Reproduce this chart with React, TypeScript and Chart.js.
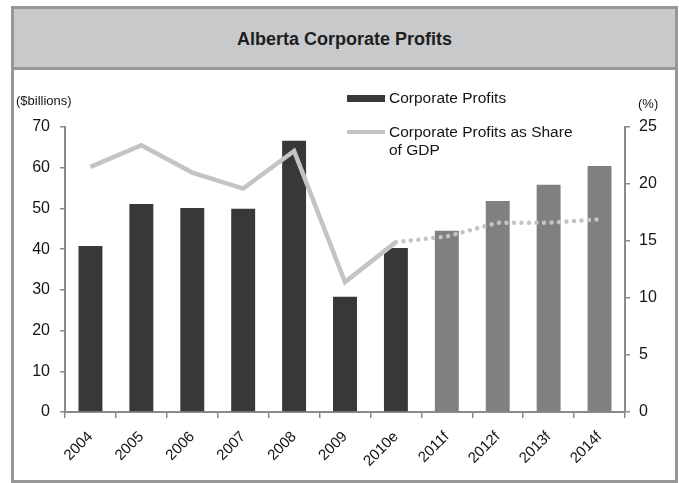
import React, { useEffect, useRef } from "react";
import { Chart, registerables } from "chart.js";

Chart.register(...registerables);

const categories = ["2004", "2005", "2006", "2007", "2008", "2009", "2010e", "2011f", "2012f", "2013f", "2014f"];
const profits = [40.8, 51.1, 50.1, 49.9, 66.6, 28.3, 40.3, 44.5, 51.8, 55.8, 60.4];
const isForecast = [false, false, false, false, false, false, false, true, true, true, true];
const shareActual = [21.5, 23.4, 21.0, 19.6, 22.9, 11.4, 14.9, null, null, null, null];
const shareForecast = [null, null, null, null, null, null, 14.9, 15.4, 16.6, 16.6, 16.9];
const leftTicks = { min: 0, max: 70, step: 10 };
const rightTicks = { min: 0, max: 25, step: 5 };

const FONT = "'Liberation Sans', Arial, sans-serif";
const TEXT = "#141414";
const AXIS = "#8a8a8a";
const DARK = "#383838";
const FORE = "#808080";
const LINE = "#c4c4c4";

const overlay = {
  id: "overlay",
  afterDraw(chart: any) {
    const ctx = chart.ctx;
    const ds = chart.data.datasets;
    ctx.save();
    ctx.fillStyle = TEXT;
    ctx.textBaseline = "middle";
    ctx.textAlign = "left";
    ctx.font = `13px ${FONT}`;
    ctx.fillText("($billions)", 16, 101);
    ctx.fillText("(%)", 638, 104);
    // legend
    ctx.fillStyle = DARK;
    ctx.fillRect(347, 95, 38, 7);
    ctx.strokeStyle = ds[1].borderColor;
    ctx.lineWidth = 4;
    ctx.beginPath();
    ctx.moveTo(347, 132);
    ctx.lineTo(385, 132);
    ctx.stroke();
    ctx.fillStyle = TEXT;
    ctx.font = `15.5px ${FONT}`;
    ctx.fillText(ds[0].label, 389, 99);
    ctx.fillText("Corporate Profits as Share", 389, 133);
    ctx.fillText("of GDP", 389, 151);
    ctx.restore();
  },
};

export default function App() {
  const ref = useRef<HTMLCanvasElement>(null);
  useEffect(() => {
    if (!ref.current) return;
    const chart = new Chart(ref.current, {
      type: "bar",
      data: {
        labels: categories,
        datasets: [
          {
            type: "bar",
            label: "Corporate Profits",
            data: profits,
            backgroundColor: isForecast.map((f) => (f ? FORE : DARK)),
            barPercentage: 0.47,
            categoryPercentage: 1,
            yAxisID: "y",
            order: 2,
          },
          {
            type: "line",
            label: "Corporate Profits as Share of GDP",
            data: shareActual,
            borderColor: LINE,
            borderWidth: 4.5,
            pointRadius: 0,
            yAxisID: "y1",
            order: 0,
            tension: 0,
          },
          {
            type: "line",
            label: "Forecast share",
            data: shareForecast,
            borderColor: LINE,
            borderWidth: 4.5,
            borderDash: [0.01, 7.5],
            borderCapStyle: "round",
            pointRadius: 0,
            yAxisID: "y1",
            order: 0,
            tension: 0,
          },
        ] as any,
      },
      options: {
        animation: false,
        responsive: false,
        layout: { padding: { top: 127, left: 0, right: 0, bottom: 0 } },
        plugins: { legend: { display: false }, tooltip: { enabled: false }, title: { display: false } },
        scales: {
          x: {
            grid: { display: true, drawOnChartArea: false, drawTicks: true, tickLength: 6, color: AXIS, lineWidth: 1.5, offset: true },
            border: { color: AXIS, width: 2 },
            ticks: { minRotation: 45, maxRotation: 45, color: TEXT, font: { family: FONT, size: 15 }, padding: 10 },
            afterFit: (s: any) => { s.height = 71; },
          },
          y: {
            position: "left",
            min: leftTicks.min,
            max: leftTicks.max,
            grid: { display: true, drawOnChartArea: false, drawTicks: true, tickLength: 5, color: AXIS, lineWidth: 1.5 },
            border: { color: AXIS, width: 2 },
            ticks: { stepSize: leftTicks.step, color: TEXT, font: { family: FONT, size: 16 }, padding: 10 },
            afterFit: (s: any) => { s.width = 65; },
          },
          y1: {
            position: "right",
            min: rightTicks.min,
            max: rightTicks.max,
            grid: { display: true, drawOnChartArea: false, drawTicks: true, tickLength: 5, color: AXIS, lineWidth: 1.5 },
            border: { color: AXIS, width: 2 },
            ticks: { stepSize: rightTicks.step, color: TEXT, font: { family: FONT, size: 16 }, padding: 9 },
            afterFit: (s: any) => { s.width = 54; },
          },
        },
      } as any,
      plugins: [overlay],
    });
    return () => chart.destroy();
  }, []);

  return (
    <div style={{ position: "fixed", left: 0, top: 0, width: 679, height: 483, background: "#fff", overflow: "hidden" }}>
      <div
        style={{
          position: "absolute", left: 11, top: 6, width: 667, height: 477, boxSizing: "border-box",
          border: "3px solid #979797", background: "#fff",
        }}
      >
        <div
          style={{
            height: 61, boxSizing: "border-box", background: "#c8c9cb", borderBottom: "3px solid #979797",
            display: "flex", alignItems: "center", justifyContent: "center",
            fontFamily: FONT, fontWeight: "bold", fontSize: 18, color: "#1e1e1e", paddingTop: 2,
          }}
        >
          Alberta Corporate Profits
        </div>
      </div>
      <canvas ref={ref} width={679} height={483} style={{ position: "absolute", left: 0, top: 0 }} />
    </div>
  );
}
